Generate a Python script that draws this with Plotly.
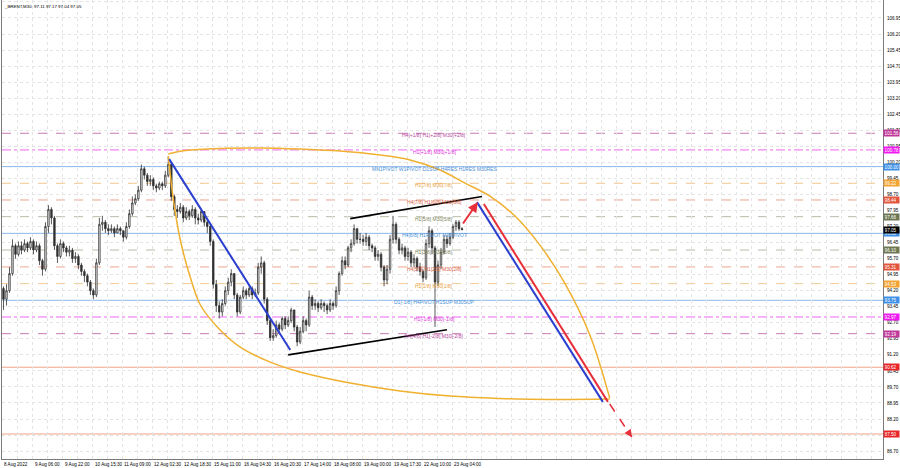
import plotly.graph_objects as go

# ---------------- data ----------------
closes = [93.8, 94.2, 95.0, 96.3, 95.9, 96.3, 96.1, 96.4, 96.2, 96.5,
          96.1, 96.3, 95.6, 95.2, 97.2, 98.0, 97.6, 96.3, 95.8, 96.4,
          96.2, 96.0, 96.1, 95.7, 95.8, 95.4, 95.1, 94.9, 94.6, 94.2,
          94.0, 95.5, 97.3, 97.4, 97.1, 97.0, 97.1, 96.9, 97.1, 97.0,
          96.7, 97.2, 97.8, 98.3, 98.5, 98.9, 99.9, 99.6, 99.3, 99.4,
          99.1, 99.0, 99.2, 99.1, 99.6, 100.1, 98.6, 98.0, 97.9, 98.1,
          97.6, 97.9, 97.7, 98.0, 97.6, 97.5, 97.9, 97.4, 97.2, 96.5,
          94.5, 93.5, 93.2, 93.6, 94.2, 94.6, 95.0, 94.0, 93.2, 93.9,
          94.2, 94.0, 94.3, 94.0, 94.1, 95.3, 95.5, 93.8, 92.8, 92.0,
          92.1, 92.6, 92.4, 92.9, 92.6, 92.8, 93.3, 92.5, 91.8, 92.3,
          92.8, 92.6, 93.9, 93.5, 93.6, 93.4, 93.6, 93.5, 93.3, 93.6,
          93.5, 94.2, 95.0, 95.6, 95.4, 96.2, 96.4, 97.1, 96.6, 96.6,
          96.5, 96.7, 96.3, 96.2, 95.8, 95.9, 95.3, 94.7, 95.2, 96.6,
          97.3, 96.6, 96.1, 96.2, 95.8, 96.0, 95.5, 95.7, 95.3, 95.1,
          94.8, 96.4, 97.0, 96.2, 94.6, 95.4, 96.0, 96.6, 96.4, 96.7,
          97.2, 97.4, 97.1, 97.05]
highs = [94.4, 94.5, 95.3, 96.6, 96.4, 96.5, 96.5, 96.6, 96.5, 96.7,
         96.6, 96.5, 96.4, 95.7, 97.4, 98.2, 98.1, 97.7, 96.4, 96.6,
         96.5, 96.3, 96.3, 96.2, 96.0, 95.9, 95.5, 95.2, 95.0, 94.7,
         94.3, 95.7, 97.6, 97.7, 97.5, 97.3, 97.3, 97.2, 97.3, 97.2,
         97.0, 97.4, 98.0, 98.6, 98.7, 99.1, 100.1, 100.0, 99.7, 99.6,
         99.5, 99.2, 99.3, 99.3, 99.8, 100.45, 100.2, 98.7, 98.2, 98.3,
         98.2, 98.1, 98.0, 98.2, 98.1, 97.8, 98.0, 97.9, 97.5, 97.3,
         96.6, 94.7, 93.7, 93.8, 94.4, 94.8, 95.2, 95.0, 94.1, 94.0,
         94.4, 94.3, 94.5, 94.4, 94.3, 95.5, 95.8, 95.6, 93.9, 92.9,
         92.4, 92.8, 92.7, 93.0, 93.0, 93.0, 93.4, 93.3, 92.6, 92.5,
         93.0, 92.9, 94.2, 94.0, 93.8, 93.7, 93.8, 93.7, 93.6, 93.8,
         93.7, 94.4, 95.1, 95.8, 95.8, 96.3, 96.6, 97.3, 97.1, 96.9,
         96.8, 96.9, 96.8, 96.4, 96.3, 96.1, 96.0, 95.4, 95.4, 96.8,
         97.7, 97.4, 96.7, 96.4, 96.3, 96.2, 96.1, 95.9, 95.8, 95.5,
         95.2, 96.6, 97.2, 97.1, 96.3, 95.6, 96.2, 96.8, 96.8, 96.9,
         97.3, 97.5, 97.5, 97.17]
lows = [93.3, 93.5, 94.1, 94.9, 95.7, 95.8, 95.9, 96.0, 96.0, 96.1,
        95.9, 96.0, 95.4, 94.9, 95.1, 96.9, 97.3, 96.1, 95.5, 95.7,
        96.0, 95.8, 95.8, 95.5, 95.5, 95.2, 94.9, 94.6, 94.4, 94.0,
        93.8, 93.9, 95.4, 97.0, 96.9, 96.8, 96.9, 96.7, 96.9, 96.8,
        96.5, 96.6, 97.1, 97.7, 98.2, 98.4, 98.8, 99.4, 99.1, 99.1,
        98.9, 98.8, 98.9, 98.9, 99.0, 99.5, 98.4, 97.7, 97.6, 97.8,
        97.4, 97.5, 97.5, 97.6, 97.3, 97.3, 97.4, 97.2, 96.9, 96.3,
        94.3, 93.2, 92.9, 93.0, 93.5, 94.0, 94.4, 93.8, 93.0, 93.1,
        93.8, 93.8, 93.9, 93.8, 93.9, 94.0, 95.0, 93.6, 92.6, 91.85,
        91.85, 92.0, 92.2, 92.3, 92.4, 92.5, 92.7, 92.3, 91.6, 91.7,
        92.2, 92.3, 92.5, 93.3, 93.3, 93.2, 93.3, 93.2, 93.1, 93.2,
        93.3, 93.4, 94.0, 94.9, 95.2, 95.3, 96.0, 96.3, 96.4, 96.4,
        96.3, 96.3, 96.1, 96.0, 95.6, 95.6, 95.1, 94.4, 94.5, 95.0,
        96.4, 96.4, 95.9, 95.9, 95.6, 95.6, 95.3, 95.3, 95.1, 94.9,
        94.6, 94.7, 96.2, 95.9, 92.5, 94.4, 95.2, 95.9, 96.2, 96.3,
        96.6, 97.0, 97.0, 97.04]
first_open = 94.3

time_labels = ["8 Aug 2022", "9 Aug 06:00", "9 Aug 22:00", "10 Aug 15:30",
               "11 Aug 09:00", "12 Aug 02:30", "12 Aug 18:30", "15 Aug 11:00",
               "16 Aug 04:30", "16 Aug 20:30", "17 Aug 14:00", "18 Aug 08:00",
               "19 Aug 00:00", "19 Aug 17:30", "22 Aug 10:00", "23 Aug 04:00"]
label_bars = [-0.45, 9.7, 19.7, 29.7, 39.7, 49.7, 59.7, 69.7, 79.7, 89.7,
              99.7, 109.7, 119.7, 129.7, 139.7, 149.7]

level_prices = [101.56, 100.78, 100.00, 99.22, 98.44, 97.66, 96.88, 96.10,
                95.31, 94.53, 93.75, 92.97, 92.19, 90.62, 87.50]
level_texts = ["H4[+1/8] H1[+2/8] M30[+2/8]", "H1[+1/8] M30[+1/8]",
               "MN1PIVOT W1PIVOT D1SUP H4RES H1RES M30RES", "H1[7/8] M30[7/8]",
               "H4[7/8] H1[6/8] M30[6/8]", "H1[5/8] M30[5/8]",
               "H4[6/8] H1PIVOT M30PIVOT", "H1[3/8] M30[3/8]",
               "H4[5/8] H1[2/8] M30[2/8]", "H1[1/8] M30[1/8]",
               "D1[-1/8] H4PIVOT H1SUP M30SUP", "H1[-1/8] M30[-1/8]",
               "H4[4/8] H1[-2/8] M30[-2/8]", "", ""]
level_kinds = ["purple", "magenta", "blue", "orange", "redorange", "olive",
               "blue", "olive", "redorange", "orange", "blue", "magenta",
               "purple", "red", "red"]
current_price = 97.05
title_text = "_BRENT,M30  97.11 97.17 97.04 97.05"

# drawings (bar index, price)
down_bars, down_prices = [55.3, 95.7], [100.35, 91.43]
chan_lo_bars, chan_lo_prices = [95.0, 148.0], [91.20, 92.37]
chan_hi_bars, chan_hi_prices = [115.7, 159.7], [97.57, 98.60]
up_arrow_bars, up_arrow_prices = [153.0, 158.3], [97.27, 98.34]
proj_blue_bars, proj_blue_prices = [158.0, 200.0], [98.34, 89.00]
proj_red_bars, proj_red_prices = [160.3, 201.7], [98.25, 89.00]
dash_bars, dash_prices = [202.3, 209.7], [88.90, 87.35]
arc_top_bars = [55.0, 60.7, 72.3, 85.7, 99.0, 112.3, 125.7, 135.7, 145.7,
                154.0, 162.3, 170.7, 179.0, 187.3, 195.7, 202.3]
arc_top_prices = [100.59, 100.75, 100.85, 100.87, 100.82, 100.73, 100.54, 100.31,
                  99.84, 99.23, 98.62, 97.69, 96.33, 94.55, 92.12, 89.18]
arc_bot_bars = [55.0, 56.7, 59.0, 62.3, 65.7, 72.3, 79.0, 89.0, 99.0, 115.7,
                132.3, 149.0, 165.7, 182.3, 202.3]
arc_bot_prices = [100.49, 98.44, 96.57, 94.84, 93.53, 92.36, 91.56, 90.86, 90.40,
                  89.88, 89.51, 89.27, 89.16, 89.11, 89.13]

# ---------------- styles ----------------
styles = {
    "purple":    dict(line="#c77bb4", dash="dash",    box="#c0399a", txt="#b5449c"),
    "magenta":   dict(line="#ee66ee", dash="dashdot", box="#f019f0", txt="#dd33dd"),
    "blue":      dict(line="#8cb8e8", dash="solid",   box="#3d8fe8", txt="#4a8fd8"),
    "orange":    dict(line="#f3c890", dash="dash",    box="#f2a334", txt="#e8a040"),
    "redorange": dict(line="#eda58f", dash="dash",    box="#e2553b", txt="#d8603f"),
    "olive":     dict(line="#b8bca6", dash="dash",    box="#6d7853", txt="#7d8560"),
    "red":       dict(line="#f0a488", dash="solid",   box="#e8262a", txt="#e8262a"),
}

bars = list(range(len(closes)))
opens = [first_open] + closes[:-1]
FONT = "Liberation Sans, Arial, sans-serif"

fig = go.Figure()

# level lines
shapes = []
for p, k in zip(level_prices, level_kinds):
    st = styles[k]
    shapes.append(dict(type="line", xref="paper", x0=0, x1=1, yref="y", y0=p, y1=p,
                       line=dict(color=st["line"], width=1, dash=st["dash"]), layer="below"))

fig.add_trace(go.Candlestick(
    x=bars, open=opens, high=highs, low=lows, close=closes,
    increasing=dict(line=dict(color="#303030", width=0.8), fillcolor="#ffffff"),
    decreasing=dict(line=dict(color="#303030", width=0.8), fillcolor="#303030"),
    whiskerwidth=0, showlegend=False, hoverinfo="skip"))

# orange lens
fig.add_trace(go.Scatter(x=arc_top_bars, y=arc_top_prices, mode="lines",
                         line=dict(color="#f0b030", width=1.5, shape="spline"),
                         showlegend=False, hoverinfo="skip"))
fig.add_trace(go.Scatter(x=arc_bot_bars, y=arc_bot_prices, mode="lines",
                         line=dict(color="#f0b030", width=1.5, shape="spline"),
                         showlegend=False, hoverinfo="skip"))

def seg(xs, ys, color, width=2, dash="solid"):
    fig.add_trace(go.Scatter(x=xs, y=ys, mode="lines",
                             line=dict(color=color, width=width, dash=dash),
                             showlegend=False, hoverinfo="skip"))

seg(down_bars, down_prices, "#2b3fcf", 2)
seg(chan_lo_bars, chan_lo_prices, "#000000", 1.6)
seg(chan_hi_bars, chan_hi_prices, "#000000", 1.6)
seg(proj_blue_bars, proj_blue_prices, "#2b3fcf", 2)
seg(proj_red_bars, proj_red_prices, "#e8303a", 2)
seg(dash_bars, dash_prices, "#e8303a", 1.5, "dash")

annotations = []
# arrow heads
annotations.append(dict(x=up_arrow_bars[1], y=up_arrow_prices[1], ax=up_arrow_bars[0],
                        ay=up_arrow_prices[0], xref="x", yref="y", axref="x", ayref="y",
                        showarrow=True, arrowhead=2, arrowsize=1, arrowwidth=2,
                        arrowcolor="#e8303a", text=""))
annotations.append(dict(x=dash_bars[1], y=dash_prices[1], ax=dash_bars[1] - 1.2,
                        ay=dash_prices[1] + 0.25, xref="x", yref="y", axref="x", ayref="y",
                        showarrow=True, arrowhead=2, arrowsize=1, arrowwidth=1.5,
                        arrowcolor="#e8303a", text=""))

# level texts
for p, t, k in zip(level_prices, level_texts, level_kinds):
    if t:
        annotations.append(dict(x=143.7, y=p, xref="x", yref="y", text=t, showarrow=False,
                                xanchor="center", yanchor="middle", yshift=-2,
                                font=dict(size=5, color=styles[k]["txt"], family=FONT)))

# right side price boxes
for p, k in zip(level_prices, level_kinds):
    annotations.append(dict(x=1, y=p, xref="paper", yref="y", text=f"{p:.2f}",
                            showarrow=False, xanchor="left", yanchor="middle", xshift=0,
                            bgcolor=styles[k]["box"], borderpad=0.6, width=14, align="left",
                            font=dict(size=4.6, color="#ffffff", family=FONT)))
annotations.append(dict(x=1, y=current_price, xref="paper", yref="y", text=f"{current_price:.2f}",
                        showarrow=False, xanchor="left", yanchor="middle",
                        bgcolor="#000000", borderpad=0.6, width=14, align="left",
                        font=dict(size=4.6, color="#ffffff", family=FONT)))

# time labels
for b, t in zip(label_bars, time_labels):
    annotations.append(dict(x=b, y=0, xref="x", yref="paper", text=t, showarrow=False,
                            xanchor="left", yanchor="top", yshift=-1,
                            font=dict(size=4.6, color="#000000", family=FONT)))

annotations.append(dict(x=0, y=1, xref="paper", yref="paper", text=title_text,
                        showarrow=False, xanchor="left", yanchor="top", xshift=0, yshift=-2,
                        font=dict(size=4.4, color="#000000", family=FONT)))

price_ticks = [round(86.70 + 0.75 * i, 2) for i in range(29)]
grid_bars = [-0.33 + 5 * i for i in range(60)]

fig.update_layout(
    width=900, height=468,
    margin=dict(l=2, r=17, t=0, b=9, autoexpand=False),
    paper_bgcolor="#ffffff", plot_bgcolor="#ffffff",
    shapes=shapes, annotations=annotations,
    showlegend=False,
    xaxis=dict(range=[-0.5, 293.5], rangeslider=dict(visible=False),
               tickvals=grid_bars, showticklabels=False, ticks="",
               showgrid=True, gridcolor="#e4e4e4", griddash="dot", gridwidth=1,
               showline=True, linecolor="#7a7a7a", linewidth=1, mirror=True,
               zeroline=False, fixedrange=True),
    yaxis=dict(range=[86.33, 107.79], side="right",
               tickvals=price_ticks, ticktext=[f"{v:.2f}" for v in price_ticks],
               tickfont=dict(size=4.6, color="#000000", family=FONT),
               ticks="", ticklabelstandoff=2,
               showgrid=True, gridcolor="#e4e4e4", griddash="dot", gridwidth=1,
               showline=True, linecolor="#7a7a7a", linewidth=1, mirror=True,
               zeroline=False, fixedrange=True),
)

fig.write_html("out.html", config={"displayModeBar": False},
               post_script="document.body.style.margin='0px';document.body.style.overflow='hidden';")
